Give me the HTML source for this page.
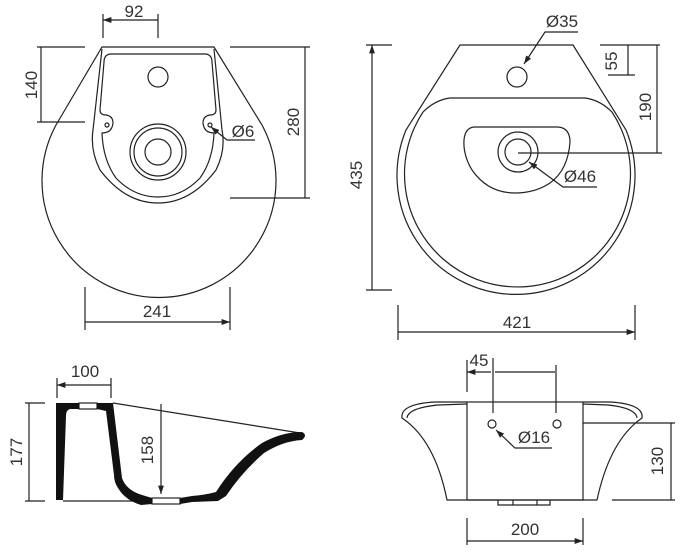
<!DOCTYPE html>
<html><head><style>body{margin:0;background:#fff}svg{display:block}text{font-family:"Liberation Sans",sans-serif;font-size:17px;fill:#333;text-anchor:middle}</style></head><body>
<svg width="683" height="557" viewBox="0 0 683 557" xmlns="http://www.w3.org/2000/svg">
<defs><marker id="a" viewBox="0 0 10 10" refX="10" refY="5" markerWidth="7" markerHeight="7" orient="auto-start-reverse"><path d="M0,1.5L10,5L0,8.5z" fill="#222"/></marker></defs>
<g fill="none" stroke="#222" stroke-width="1.2">
<!-- top-left -->
<path d="M102,47L214,47L262,125A117 117 0 1 1 56,125Z"/>
<path d="M102,49L93,130Q90,150 100,170Q125,203 158,203Q191,203 216,170Q226,150 222,130L214,49"/>
<path d="M110,54L206,54Q212,55 212,62L216,110Q216,115 210,115Q203,116 203,123Q204,133 214,133Q213,160 200,178Q182,197 158,197Q134,197 116,178Q103,160 102,133Q112,133 113,123Q113,116 106,115Q100,115 100,110L104,62Q104,55 110,54Z"/>
<circle cx="158" cy="77" r="10"/><circle cx="158" cy="152" r="28"/><circle cx="158" cy="152" r="24"/><circle cx="158" cy="152" r="13"/>
<circle cx="107" cy="125" r="2"/><circle cx="210" cy="125" r="2"/>
<path d="M103,14V38M158,14V38M37,47H85M37,122H85M230,47H310M230,198H310M85,287V330M230,287V330"/>
<path d="M103,20H158M41,47V122M305,47V198M85,322H230" marker-start="url(#a)" marker-end="url(#a)"/>
<path d="M255,140H227L211,127" marker-end="url(#a)"/>
<!-- top-right -->
<path d="M460,45L573,45L626,130A119 119 0 1 1 406,130Z"/>
<path d="M450,98L585,98Q600,100 612,112A113 113 0 1 1 423,112Q435,100 450,98Z"/>
<path d="M474,127L558,127Q570,128 570,142Q568,170 550,183Q535,193 515,193Q488,193 472,170Q463,155 464,140Q465,128 474,127Z"/>
<circle cx="517" cy="77" r="10"/><circle cx="518" cy="152" r="20"/><circle cx="518" cy="152" r="13"/>
<path d="M366,45H392M366,290H392M600,45H660M608,75H635M518,153H662M398,305V340M635,305V340"/>
<path d="M372,45V290M628,45V75M657,45V153M398,332H635" marker-start="url(#a)" marker-end="url(#a)"/>
<path d="M578,32H545L524,64" marker-end="url(#a)"/>
<path d="M597,187H563L529,162" marker-end="url(#a)"/>
<!-- bottom-left -->
<path d="M57,378V398M111,378V398M25,403H45M25,501H45M113,403L300,433M63,501H140"/>
<rect x="79" y="403" width="18" height="6"/>
<rect x="152" y="498" width="28" height="6"/>
<path d="M57,385H111M29,403V501M161,404V494" marker-start="url(#a)" marker-end="url(#a)"/>
<!-- bottom-right -->
<rect x="467" y="402" width="116" height="98"/>
<path d="M467,402L435,402Q400,404 402,418Q435,440 447,500H597Q610,440 642,418Q644,404 610,402L583,402"/>
<path d="M467,404L438,405Q408,408 407,418M583,404L608,405Q636,408 637,418"/>
<path d="M498,500V505H550V500M513,500V505M537,500V505"/>
<circle cx="492" cy="424" r="4"/><circle cx="557" cy="424" r="4"/>
<path d="M467,360V392M493,358V413M556,365V413M583,423H675M612,500H675M467,518V545M583,518V545"/>
<path d="M467,372H491M495,372H555M671,423V500M467,541H583" marker-start="url(#a)" marker-end="url(#a)"/>
<path d="M552,448H515L496,430" marker-end="url(#a)"/>
</g>
<g fill="#111">
<path d="M56,403L79,403L79,409L70,409Q66,410 66,416L63,500L56,500Z"/>
<path d="M97,403L113,403L122,478Q126,490 142,495L152,498L152,504L141,505Q125,500 118,488Q114,482 114,475L106,411L97,409Z"/>
<path d="M180,498L192,496Q205,495 216,492Q235,462 262,443Q282,432 302,432Q308,435 302,440Q283,441 264,453Q242,472 226,496L218,501L192,502L180,504Z"/>
</g>
<text x="134" y="17">92</text><text x="157" y="317">241</text>
<text transform="translate(37,85) rotate(-90)">140</text>
<text transform="translate(299,122) rotate(-90)">280</text>
<text x="243" y="137">Ø6</text>
<text x="562" y="27">Ø35</text><text x="580" y="182">Ø46</text>
<text transform="translate(362,175) rotate(-90)">435</text>
<text transform="translate(617,61) rotate(-90)">55</text>
<text transform="translate(651,107) rotate(-90)">190</text>
<text x="517" y="328">421</text>
<text x="85" y="377">100</text>
<text transform="translate(22,452) rotate(-90)">177</text>
<text transform="translate(153,450) rotate(-90)">158</text>
<text x="479" y="366">45</text><text x="534" y="443">Ø16</text>
<text transform="translate(663,461) rotate(-90)">130</text>
<text x="525" y="535">200</text>
</svg>
</body></html>
